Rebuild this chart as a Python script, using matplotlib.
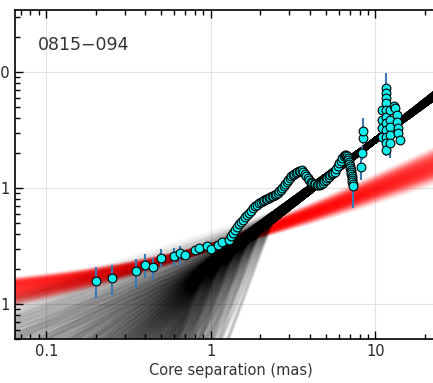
import numpy as np
import matplotlib
matplotlib.use("Agg")
import matplotlib.pyplot as plt
from matplotlib.ticker import FuncFormatter, LogLocator

# --- data (core separation in mas, flux density) ---
core_sep = [0.200, 0.249, 0.348, 0.398, 0.447, 0.498, 0.594, 0.646, 0.697, 0.800,
            0.848, 0.942, 0.997, 1.10, 1.16]
core_flux = [0.159, 0.169, 0.192, 0.217, 0.207, 0.249, 0.258, 0.274, 0.263, 0.294,
             0.306, 0.316, 0.300, 0.324, 0.342]
core_lo = [0.113, 0.119, 0.137, 0.169, 0.161, 0.210, 0.213, 0.217, 0.240, 0.275,
           0.290, 0.300, 0.285, 0.310, 0.330]
core_hi = [0.208, 0.217, 0.244, 0.268, 0.248, 0.296, 0.306, 0.316, 0.290, 0.312,
           0.322, 0.332, 0.315, 0.338, 0.355]

chain_sep = [1.281, 1.323, 1.360, 1.399, 1.439, 1.480, 1.522, 1.565, 1.609, 1.655,
             1.702, 1.751, 1.800, 1.851, 1.904, 1.958, 2.014, 2.071, 2.114, 2.160,
             2.206, 2.252, 2.300, 2.349, 2.399, 2.449, 2.502, 2.555, 2.609, 2.664,
             2.721, 2.779, 2.838, 2.897, 2.959, 3.021, 3.086, 3.151, 3.218, 3.286,
             3.357, 3.427, 3.501, 3.574, 3.650, 3.727, 3.806, 3.888, 3.970, 4.054,
             4.140, 4.228, 4.318, 4.410, 4.503, 4.599, 4.696, 4.797, 4.898, 5.002,
             5.108, 5.217, 5.327, 5.440, 5.556, 5.674, 5.794, 5.916, 6.042, 6.171,
             6.301, 6.435, 6.525, 6.617, 6.711, 6.805, 6.853, 6.901, 6.950, 6.998,
             7.047, 7.096, 7.116, 7.146, 7.166, 7.196, 7.216, 7.246, 7.266]
chain_flux = [0.356, 0.386, 0.409, 0.435, 0.461, 0.490, 0.509, 0.530, 0.562, 0.585,
              0.609, 0.633, 0.673, 0.700, 0.714, 0.743, 0.757, 0.773, 0.785, 0.796,
              0.809, 0.820, 0.833, 0.845, 0.858, 0.871, 0.888, 0.906, 0.933, 0.961,
              1.000, 1.040, 1.083, 1.127, 1.172, 1.220, 1.256, 1.294, 1.320, 1.347,
              1.374, 1.402, 1.410, 1.415, 1.374, 1.321, 1.269, 1.220, 1.172, 1.127,
              1.104, 1.083, 1.072, 1.061, 1.061, 1.061, 1.083, 1.104, 1.138, 1.172,
              1.207, 1.244, 1.282, 1.320, 1.347, 1.374, 1.458, 1.548, 1.626, 1.709,
              1.796, 1.887, 1.906, 1.924, 1.869, 1.814, 1.743, 1.675, 1.610, 1.548,
              1.487, 1.429, 1.374, 1.320, 1.269, 1.220, 1.172, 1.127, 1.083]

jet_sep = [7.30, 8.16, 8.28, 8.40, 8.45, 10.91, 10.91, 10.91, 10.91, 11.58, 11.58,
           11.58, 11.58, 11.58, 11.58, 11.58, 11.58, 11.58, 11.58, 11.58, 12.25, 12.25,
           12.25, 12.25, 12.25, 12.96, 13.14, 13.46, 13.57, 13.65, 13.76, 14.09]
jet_flux = [1.03, 1.52, 2.00, 2.70, 3.10, 4.70, 3.86, 3.29, 2.75, 7.28, 6.59, 5.97,
            5.40, 4.70, 4.09, 3.63, 3.16, 2.75, 2.44, 2.13, 4.70, 3.86, 3.36, 2.86,
            2.44, 5.09, 4.89, 4.26, 3.71, 3.29, 2.98, 2.59]
jet_lo = [0.67, 1.17, 1.75, 2.40, 2.80, 4.30, 3.55, 3.00, 2.50, 6.40, 6.10, 5.55,
          5.00, 4.35, 3.80, 3.35, 2.90, 2.50, 2.20, 1.90, 4.35, 3.55, 3.10, 2.60,
          1.81, 4.80, 4.60, 4.00, 3.50, 3.10, 2.80, 2.45]
jet_hi = [1.29, 1.90, 2.30, 3.20, 4.01, 5.10, 4.20, 3.60, 3.00, 9.80, 7.10, 6.40,
          5.80, 5.10, 4.40, 3.90, 3.45, 3.00, 2.70, 2.35, 5.10, 4.20, 3.65, 3.15,
          2.70, 5.40, 5.20, 4.55, 3.95, 3.50, 3.15, 2.75]

# model bands: red = b + a*r^k (a = norm - b), black = broken power law
red_b = [0.062, 0.072, 0.082, 0.092, 0.102, 0.112, 0.122]
red_k = [0.55, 0.58, 0.61, 0.64, 0.67]
red_norm = [0.30, 0.32]

black_amp10 = [2.45, 2.52, 2.59, 2.66, 2.73]
black_k_out = [1.03, 1.07, 1.11]
black_break = [0.9, 1.15, 1.4, 1.7, 2.0, 2.4]
black_k_in = [0.45, 0.55, 0.65, 0.75, 0.85, 0.95, 1.05, 1.15, 1.25, 1.35, 1.45,
              1.6, 1.75, 1.9, 2.1, 2.3, 2.6, 2.9, 3.3, 3.8]

source = "0815\u2212094"

plt.rcParams.update({"font.family": "DejaVu Sans", "font.size": 10.5})

fig = plt.figure(figsize=(4.33, 3.83), dpi=100)
ax = fig.add_axes([0.0346, 0.1149, 0.9977, 0.859])

r = np.logspace(np.log10(0.05), np.log10(30), 160)

for b in red_b:
    for k in red_k:
        for n in red_norm:
            ax.plot(r, b + (n - b) * r**k, color="red", lw=3, alpha=0.11, zorder=1)

for amp in black_amp10:
    for ko in black_k_out:
        for xb in black_break:
            yb = amp * (xb / 10) ** ko
            for ki in black_k_in:
                y = np.where(r >= xb, amp * (r / 10) ** ko, yb * (r / xb) ** ki)
                ax.plot(r, y, color="black", lw=1.2, alpha=0.035, zorder=2)

ecol = "#3a78b4"
core_sep_a, core_flux_a = np.array(core_sep), np.array(core_flux)
ax.errorbar(core_sep_a, core_flux_a,
            yerr=[core_flux_a - np.array(core_lo), np.array(core_hi) - core_flux_a],
            fmt="none", ecolor=ecol, elinewidth=1.5, zorder=3)
jet_sep_a, jet_flux_a = np.array(jet_sep), np.array(jet_flux)
ax.errorbar(jet_sep_a, jet_flux_a,
            yerr=[jet_flux_a - np.array(jet_lo), np.array(jet_hi) - jet_flux_a],
            fmt="none", ecolor=ecol, elinewidth=1.5, zorder=3)

mk = dict(ls="none", marker="o", ms=6.3, mfc="#12eeee", mec="black", mew=0.8, zorder=4)
ax.plot(core_sep, core_flux, **mk)
ax.plot(chain_sep, chain_flux, **mk)
ax.plot(jet_sep, jet_flux, **mk)

ax.set_xscale("log")
ax.set_yscale("log")
ax.set_xlim(0.0644, 27.2)
ax.set_ylim(0.0499, 34.2)

fmt = FuncFormatter(lambda v, _: f"{v:g}")
ax.xaxis.set_major_formatter(fmt)
ax.yaxis.set_major_formatter(fmt)
ax.xaxis.set_major_locator(LogLocator(base=10, numticks=10))
ax.yaxis.set_major_locator(LogLocator(base=10, numticks=10))

ax.grid(True, which="major", color="#e3e3e3", lw=0.8, zorder=0)
ax.set_axisbelow(True)
ax.tick_params(which="both", direction="in", top=True, right=True, colors="black",
               labelcolor="#262626", labelsize=10.5)
ax.tick_params(which="major", length=6, width=1)
ax.tick_params(which="minor", length=3.5, width=1)
for s in ax.spines.values():
    s.set_linewidth(1.2)

ax.set_xlabel("Core separation (mas)", color="#333333", fontsize=10.5, labelpad=3)
ax.text(0.053, 0.894, source, transform=ax.transAxes, fontsize=12.5,
        color="#333333", va="center", ha="left")

fig.savefig("out.png", dpi=100)
